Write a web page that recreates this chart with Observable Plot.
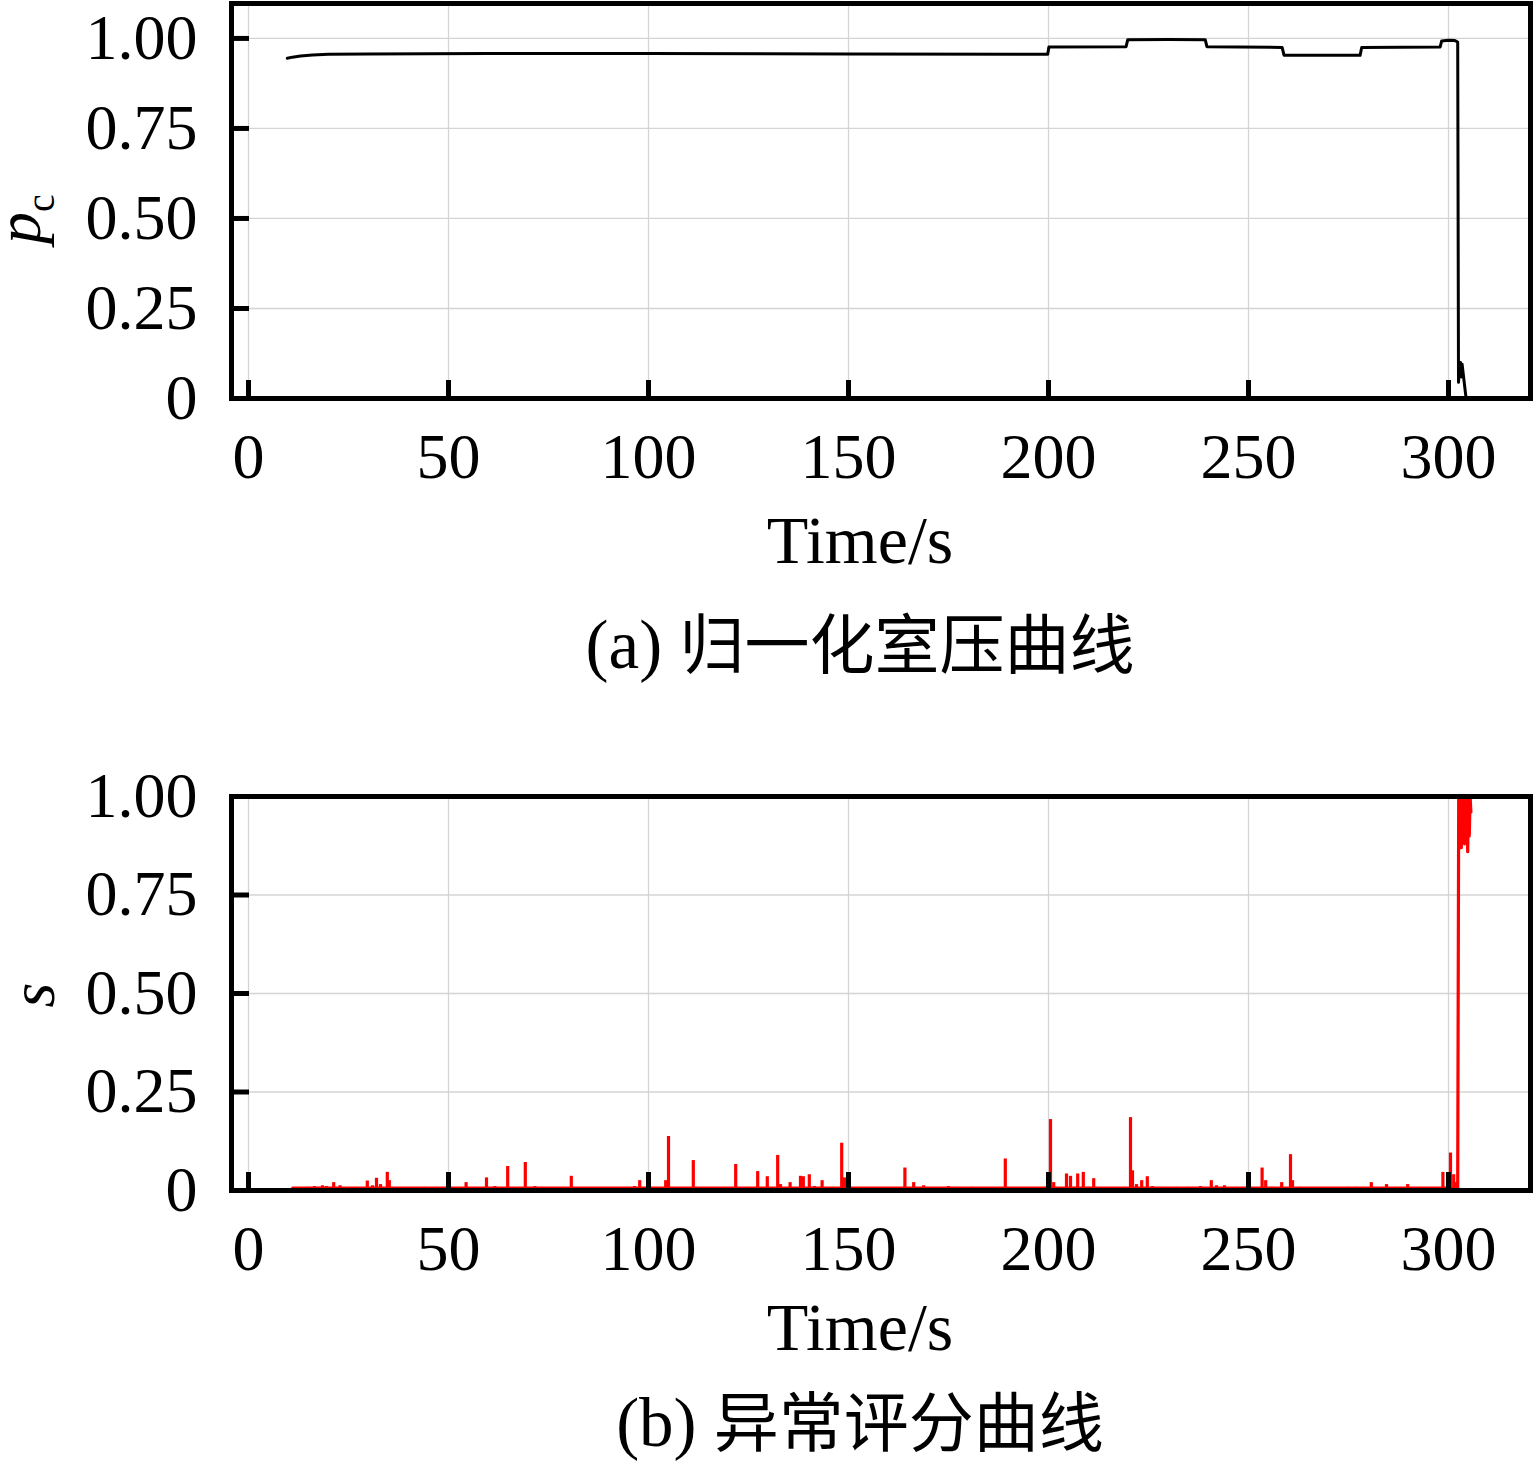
<!DOCTYPE html>
<html><head><meta charset="utf-8">
<script src="https://cdn.jsdelivr.net/npm/d3@7"></script>
<script src="https://cdn.jsdelivr.net/npm/@observablehq/plot@0.6"></script>
<style>
body{margin:0;background:#fff;}
#wrap{position:relative;width:1535px;height:1465px;background:#fff;overflow:hidden;}
#p1,#p2{position:absolute;left:0;}
#p1{top:0;} #p2{top:780px;}
</style></head>
<body><div id="wrap"><div id="p1"></div><div id="p2"></div></div>
<script>
// ---- data ----
const xTicks = [0, 50, 100, 150, 200, 250, 300];
const yTicks = [0, 0.25, 0.5, 0.75, 1.0];
const yTickLabels = ["0", "0.25", "0.50", "0.75", "1.00"];

// (a) normalized chamber pressure
const pcTime = [9.7, 11, 13, 16, 20, 30, 60, 100, 150, 199.8, 200.1, 219.4, 219.8, 230, 239.2, 239.6, 258.4, 258.9, 277.9, 278.3, 297.9, 298.3, 300, 301.6, 302.3, 302.5, 302.8, 303.0, 303.2, 303.4, 304.4];
const pcValue = [0.945, 0.948, 0.951, 0.954, 0.956, 0.957, 0.958, 0.958, 0.957, 0.956, 0.976, 0.977, 0.996, 0.997, 0.996, 0.977, 0.975, 0.953, 0.953, 0.975, 0.976, 0.993, 0.995, 0.994, 0.99, 0.045, 0.09, 0.10, 0.06, 0.095, 0.0];

// (b) anomaly score spikes
const spikeTime = [12,13.5,15,16.5,17.5,18.5,19.5,21.3,22.9,24,26,28,29.7,31,32,33,34.7,35.2,36,38,41,44,46,48,50,52,54.4,56,58,59.5,61.6,64.8,67,69.2,71.6,74,77,80.7,83,86,89,92,96.5,97.8,104.3,105,108,111.2,114,118,121.8,124,127.3,129.7,132.3,133,135.4,138,138.7,140.2,141.5,143.4,146,148.3,149,152,155,158,161,164.1,166.3,168.8,172,175,178,181,184,187,189.2,193,196,199,200.5,201.3,203,204.5,205.5,206.5,207.3,208.7,210,211.3,214,217,220.5,221,222,223.3,224.7,226,229,232,235,238,240.7,242,244,246,249,251,253.4,254.3,256,258.3,260.5,261,263,266,269,272,275,277,280.7,282,284.5,287,289.8,292,295,298.6,300.5,301.3,302];
const spikeValue = [0.006,0.007,0.008,0.01,0.008,0.012,0.01,0.02,0.012,0.006,0.005,0.005,0.024,0.012,0.031,0.015,0.046,0.025,0.006,0.005,0.007,0.008,0.006,0.005,0.004,0.006,0.02,0.005,0.005,0.032,0.01,0.061,0.005,0.071,0.01,0.006,0.006,0.036,0.006,0.005,0.006,0.005,0.01,0.025,0.025,0.137,0.005,0.076,0.005,0.006,0.066,0.005,0.048,0.035,0.089,0.015,0.02,0.036,0.035,0.04,0.01,0.025,0.008,0.12,0.032,0.006,0.005,0.005,0.006,0.057,0.02,0.012,0.006,0.01,0.006,0.008,0.006,0.005,0.08,0.005,0.004,0.008,0.18,0.02,0.006,0.042,0.036,0.008,0.042,0.046,0.008,0.03,0.005,0.006,0.185,0.05,0.015,0.025,0.035,0.01,0.006,0.008,0.008,0.01,0.025,0.012,0.012,0.006,0.006,0.005,0.057,0.025,0.008,0.02,0.091,0.025,0.008,0.006,0.006,0.005,0.008,0.008,0.02,0.006,0.015,0.006,0.015,0.006,0.006,0.046,0.095,0.04,0.02];
const baseTime = [11, 302];
const baseValue = [0.007, 0.007];
const burstTime = [302.3, 302.55, 302.8, 303.0, 303.2, 303.4, 303.6, 303.8, 304.0, 304.2, 304.4, 304.6, 304.8, 305.0, 305.2, 305.4, 305.6];
const burstValue = [0.0, 1.0, 0.9, 1.0, 0.87, 1.0, 0.92, 1.0, 0.88, 1.0, 0.95, 1.0, 0.86, 1.0, 0.9, 1.0, 0.96];

// ---- build ----
const W = 1535, ML = 231, MR = 5;
const xDomain = [-4.25, 320.5];
const pxPerX = (W - ML - MR) / (xDomain[1] - xDomain[0]);
const serif = "'Liberation Serif','DejaVu Serif',serif";
const cjk = "'Noto Sans CJK SC','Liberation Serif',sans-serif";
const gridColor = "#d4d4d4";

function panel({height, mTop, mBottom, yDomain, marks}) {
  const plotH = height - mTop - mBottom;
  const pxPerY = plotH / (yDomain[1] - yDomain[0]);
  const tickLen = 18;
  return Plot.plot({
    width: W, height,
    marginLeft: ML, marginRight: MR, marginTop: mTop, marginBottom: mBottom,
    style: {fontFamily: serif, fontSize: "64px", background: "white", overflow: "visible"},
    x: {domain: xDomain},
    y: {domain: yDomain},
    marks: [
      Plot.gridX(xTicks, {stroke: gridColor, strokeOpacity: 1, strokeWidth: 1.3}),
      Plot.gridY(yTicks, {stroke: gridColor, strokeOpacity: 1, strokeWidth: 1.3}),
      ...marks,
      Plot.ruleX(xTicks, {x: d => d, y1: yDomain[0], y2: yDomain[0] + tickLen / pxPerY, stroke: "black", strokeWidth: 5}),
      Plot.ruleY(yTicks, {y: d => d, x1: xDomain[0], x2: xDomain[0] + tickLen / pxPerX, stroke: "black", strokeWidth: 5}),
      Plot.frame({stroke: "black", strokeWidth: 5}),
      Plot.axisX({ticks: xTicks, tickSize: 0, tickPadding: 34, label: null, fontSize: 64, tickFormat: d => String(d)}),
      Plot.axisY({ticks: yTicks, tickSize: 0, tickPadding: 34, label: null, fontSize: 64, tickFormat: d => yTickLabels[yTicks.indexOf(d)]})
    ]
  });
}

const pcData = pcTime.map((t, i) => ({t, v: pcValue[i]}));
const spikes = spikeTime.map((t, i) => ({t, v: spikeValue[i]}));
const base = baseTime.map((t, i) => ({t, v: baseValue[i]}));
const burst = burstTime.map((t, i) => ({t, v: burstValue[i]}));

const svg1 = panel({
  height: 700, mTop: 3, mBottom: 302, yDomain: [0, 1.097],
  marks: [Plot.line(pcData, {x: "t", y: "v", stroke: "black", strokeWidth: 3, clip: true})]
});
const svg2 = panel({
  height: 685, mTop: 16, mBottom: 275, yDomain: [0, 1],
  marks: [
    Plot.line(base, {x: "t", y: "v", stroke: "#ff0000", strokeWidth: 2.4}),
    Plot.ruleX(spikes, {x: "t", y1: 0, y2: "v", stroke: "#ff0000", strokeWidth: 3.2}),
    Plot.line(burst, {x: "t", y: "v", stroke: "#ff0000", strokeWidth: 3.2, clip: true})
  ]
});

document.getElementById("p1").appendChild(svg1);
document.getElementById("p2").appendChild(svg2);

function addLabels(svg, {timeY, capY, capPrefix, capText, yLabel}) {
  const s = d3.select(svg);
  s.append("text").attr("x", 860).attr("y", timeY).attr("text-anchor", "middle")
    .attr("font-family", serif).attr("font-size", 68).attr("fill", "black").text("Time/s");
  const cap = s.append("text").attr("x", 860).attr("y", capY).attr("text-anchor", "middle")
    .attr("font-size", 69).attr("fill", "black");
  cap.append("tspan").attr("font-family", serif).text(capPrefix + " ");
  cap.append("tspan").attr("font-family", cjk).attr("font-size", 65).text(capText);
  yLabel(s);
}

addLabels(svg1, {timeY: 563, capY: 668, capPrefix: "(a)", capText: "归一化室压曲线", yLabel: s => {
  const t = s.append("text").attr("transform", "translate(40,219) rotate(-90)").attr("text-anchor", "middle")
    .attr("font-family", serif).attr("fill", "black");
  t.append("tspan").attr("font-style", "italic").attr("font-size", 64).text("p");
  t.append("tspan").attr("font-size", 40).attr("dy", 14).text("c");
}});
addLabels(svg2, {timeY: 570, capY: 666, capPrefix: "(b)", capText: "异常评分曲线", yLabel: s => {
  s.append("text").attr("transform", "translate(54,215) rotate(-90)").attr("text-anchor", "middle")
    .attr("font-family", serif).attr("font-style", "italic").attr("font-size", 64).attr("fill", "black").text("s");
}});
</script></body></html>
